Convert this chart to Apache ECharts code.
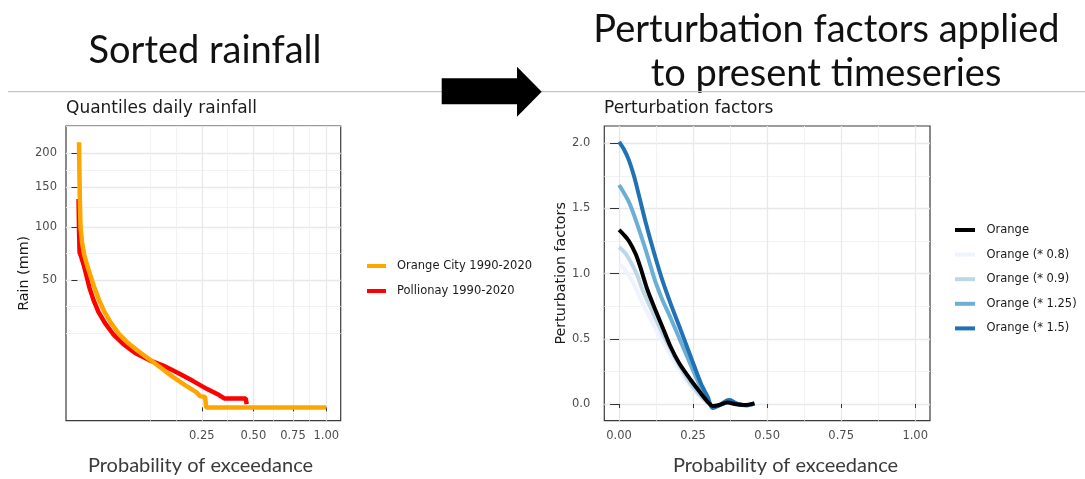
<!DOCTYPE html>
<html><head><meta charset="utf-8">
<script src="https://cdn.jsdelivr.net/npm/echarts@6.0.0/dist/echarts.min.js"></script>
<style>html,body{margin:0;padding:0;background:#fff}#c{width:1085px;height:479px}</style>
</head><body><div id="c"></div>
<script>
// ---------- Left panel: quantiles of daily rainfall ----------
const orangeCityP    = [0.0000414, 0.0000584, 0.0000932, 0.000156, 0.000342, 0.000705, 0.00149, 0.00278, 0.00473, 0.00755, 0.0119, 0.0183, 0.028, 0.0414, 0.0594, 0.083, 0.113, 0.148, 0.187, 0.228, 0.243, 0.263, 0.268, 1.0];
const orangeCityRain = [217, 174, 133, 100, 84.3, 72.5, 62.5, 53.2, 43.9, 35.5, 28.0, 21.9, 16.6, 12.8, 9.8, 7.2, 4.77, 2.83, 1.53, 0.72, 0.39, 0.33, 0, 0];
const pollionayP     = [0.0000196, 0.0000414, 0.0000714, 0.000272, 0.000705, 0.00134, 0.00237, 0.00419, 0.0072, 0.0123, 0.0205, 0.0337, 0.0537, 0.083, 0.1186, 0.1638, 0.2162, 0.2718, 0.3244, 0.3478, 0.4572, 0.4627];
const pollionayRain  = [134, 97, 74.4, 68.8, 61.6, 53.2, 43.9, 35.5, 28.0, 21.9, 16.6, 12.4, 9.1, 6.9, 5.39, 3.63, 2.13, 1.03, 0.47, 0.25, 0.25, 0.034];
const rainTicks      = [50, 100, 150, 200];
const probTicksLeft  = [0.25, 0.5, 0.75, 1.0];

// ---------- Right panel: perturbation factors ----------
const pfOrangeP = [0, 0.015, 0.033, 0.056, 0.073, 0.095, 0.118, 0.146, 0.174, 0.203, 0.242, 0.276, 0.304, 0.316, 0.338, 0.366, 0.395, 0.423, 0.457];
const pfOrangeV = [1.335, 1.30, 1.25, 1.15, 1.04, 0.88, 0.746, 0.593, 0.439, 0.312, 0.184, 0.082, 0.005, -0.015, -0.008, 0.012, -0.002, -0.008, 0.005];
const pf08P = [0, 0.02, 0.04, 0.06, 0.08, 0.1, 0.13, 0.16, 0.2, 0.24, 0.28, 0.305, 0.316, 0.338, 0.372, 0.40, 0.43, 0.457];
const pf08V = [1.075, 1.03, 0.96, 0.87, 0.77, 0.68, 0.55, 0.43, 0.27, 0.14, 0.04, 0.0, -0.02, -0.01, 0.02, 0.0, -0.01, 0.005];
const pf09P = [0, 0.02, 0.039, 0.061, 0.08, 0.1, 0.13, 0.16, 0.2, 0.24, 0.28, 0.305, 0.316, 0.338, 0.372, 0.40, 0.43, 0.457];
const pf09V = [1.205, 1.16, 1.09, 0.99, 0.87, 0.77, 0.62, 0.48, 0.31, 0.16, 0.05, 0.0, -0.02, -0.01, 0.02, 0.0, -0.01, 0.005];
const pf125P = [0, 0.033, 0.061, 0.09, 0.118, 0.132, 0.146, 0.174, 0.208, 0.242, 0.276, 0.30, 0.316, 0.338, 0.372, 0.40, 0.43, 0.457];
const pf125V = [1.68, 1.55, 1.38, 1.18, 0.97, 0.88, 0.80, 0.66, 0.48, 0.30, 0.125, 0.035, -0.03, -0.01, 0.03, 0.0, -0.01, 0.005];
const pf15P = [0, 0.017, 0.033, 0.05, 0.067, 0.09, 0.118, 0.146, 0.174, 0.208, 0.242, 0.276, 0.299, 0.316, 0.338, 0.372, 0.40, 0.43, 0.457];
const pf15V = [2.01, 1.95, 1.87, 1.75, 1.60, 1.39, 1.16, 0.95, 0.77, 0.567, 0.363, 0.159, 0.056, -0.03, -0.01, 0.03, 0.0, -0.01, 0.005];
const probTicksRight = [0, 0.25, 0.5, 0.75, 1.0];
const pfTicks        = [0, 0.5, 1.0, 1.5, 2.0];

// ---------- helpers ----------
const sq = Math.sqrt;
function pts(xs, ys, fx, fy) { return xs.map((x, i) => [fx(x), fy(ys[i])]); }
const id = v => v;
// ggplot-style minor breaks: midpoints of (transformed) majors, extended by one step each side
function minors(maj, lo, hi) {
  const bd = maj[1] - maj[0];
  const b = [maj[0] - bd].concat(maj, [maj[maj.length - 1] + bd]);
  const out = [];
  for (let i = 0; i < b.length - 1; i++) out.push(b[i], (b[i] + b[i + 1]) / 2);
  out.push(b[b.length - 1]);
  return out.filter(v => v > lo && v < hi && !maj.some(m => Math.abs(m - v) < 1e-9));
}

const TXT = '#4d4d4d', TICK = '#333333', GRID = '#e8e8e8', GRIDMIN = '#f0f0f0';
const FONT = 'DejaVu Sans';

const lxMaj = probTicksLeft.map(sq), lyMaj = rainTicks.map(sq);
const L = { xmin: -0.046, xmax: 1.058, ymin: -0.74, ymax: 15.63 };
const R = { xmin: -0.05, xmax: 1.05, ymin: -0.128, ymax: 2.132 };
const rxMaj = probTicksRight, ryMaj = pfTicks;

function majorAxis(grid, min, max, vals, fmt, tickLen, margin) {
  return {
    type: 'value', gridIndex: grid, min: min, max: max,
    axisLine: { show: false },
    axisTick: { show: true, customValues: vals, length: tickLen, lineStyle: { color: TICK, width: 1 } },
    axisLabel: { show: true, customValues: vals, formatter: fmt, color: TXT, fontFamily: FONT, fontSize: 11.5, margin: margin },
    splitLine: { show: true, lineStyle: { color: GRID, width: 1.3 } }
  };
}
function minorAxis(grid, min, max, vals, isY) {
  return {
    type: 'value', gridIndex: grid, min: min, max: max, position: isY ? 'left' : 'bottom',
    axisLine: { show: false },
    axisTick: { show: false, customValues: vals },
    axisLabel: { show: false },
    splitLine: { show: true, lineStyle: { color: GRIDMIN, width: 0.9 } }
  };
}

const xAxes = [
  majorAxis(0, L.xmin, L.xmax, lxMaj, v => (v * v).toFixed(2), 4, 9),
  minorAxis(0, L.xmin, L.xmax, minors(lxMaj, L.xmin, L.xmax), false),
  majorAxis(1, R.xmin, R.xmax, rxMaj, v => v.toFixed(2), 4, 9),
  minorAxis(1, R.xmin, R.xmax, minors(rxMaj, R.xmin, R.xmax), false)
];
const yAxes = [
  majorAxis(0, L.ymin, L.ymax, lyMaj, v => String(Math.round(v * v)), 6, 9),
  minorAxis(0, L.ymin, L.ymax, minors(lyMaj, L.ymin, L.ymax), true),
  majorAxis(1, R.ymin, R.ymax, ryMaj, v => v.toFixed(1), 9, 14),
  minorAxis(1, R.ymin, R.ymax, minors(ryMaj, R.ymin, R.ymax), true)
];
yAxes[0].name = 'Rain (mm)';
yAxes[2].name = 'Perturbation factors';
[0, 2].forEach((k, j) => {
  Object.assign(yAxes[k], {
    nameLocation: 'middle', nameRotate: 90, nameGap: j === 0 ? 32 : 31,
    nameTextStyle: { fontFamily: FONT, fontSize: 14.3, color: '#1a1a1a' }
  });
});

function lineSeries(name, xi, yi, data, color, w, smooth) {
  return { name: name, type: 'line', xAxisIndex: xi, yAxisIndex: yi, data: data, showSymbol: false, symbol: 'none',
    smooth: smooth || false,
    lineStyle: { color: color, width: w }, itemStyle: { color: color }, animation: false, silent: true };
}

const C = { orange: '#FFA500', red: '#FF0000', black: '#000000', b08: '#EFF3FF', b09: '#BDD7E7', b125: '#6BAED6', b15: '#2171B5' };

const series = [
  lineSeries('Pollionay 1990-2020', 0, 0, pts(pollionayP, pollionayRain, sq, sq), C.red, 4.5),
  lineSeries('Orange City 1990-2020', 0, 0, pts(orangeCityP, orangeCityRain, sq, sq), C.orange, 4.5),
  lineSeries('Orange (* 0.8)', 2, 2, pts(pf08P, pf08V, id, id), C.b08, 4, 0.3),
  lineSeries('Orange (* 0.9)', 2, 2, pts(pf09P, pf09V, id, id), C.b09, 4, 0.3),
  lineSeries('Orange (* 1.25)', 2, 2, pts(pf125P, pf125V, id, id), C.b125, 4, 0.3),
  lineSeries('Orange (* 1.5)', 2, 2, pts(pf15P, pf15V, id, id), C.b15, 4, 0.3),
  lineSeries('Orange', 2, 2, pts(pfOrangeP, pfOrangeV, id, id), C.black, 4, 0.3)
];

const option = {
  backgroundColor: '#ffffff',
  animation: false,
  title: [
    { text: 'Quantiles daily rainfall', left: 66, top: 100, padding: 0,
      textStyle: { fontFamily: FONT, fontSize: 17, fontWeight: 'normal', color: '#1a1a1a' } },
    { text: 'Perturbation factors', left: 604, top: 100, padding: 0,
      textStyle: { fontFamily: FONT, fontSize: 17, fontWeight: 'normal', color: '#1a1a1a' } }
  ],
  legend: [
    { data: ['Orange City 1990-2020', 'Pollionay 1990-2020'], orient: 'vertical', left: 367, top: 259, padding: 0,
      icon: 'rect', itemWidth: 19, itemHeight: 4, itemGap: 11, selectedMode: false,
      textStyle: { fontFamily: FONT, fontSize: 11.5, color: '#1a1a1a', lineHeight: 14, padding: [0, 0, 0, 6] } },
    { data: ['Orange', 'Orange (* 0.8)', 'Orange (* 0.9)', 'Orange (* 1.25)', 'Orange (* 1.5)'], orient: 'vertical', left: 955, top: 223, padding: 0,
      icon: 'rect', itemWidth: 20, itemHeight: 4, itemGap: 10.6, selectedMode: false,
      textStyle: { fontFamily: FONT, fontSize: 11.5, color: '#1a1a1a', lineHeight: 14, padding: [0, 0, 0, 6.5] } }
  ],
  grid: [
    { left: 66, top: 126, width: 274.7, height: 294.7, show: true, borderColor: '#3a3a3a', borderWidth: 1.2, backgroundColor: 'transparent' },
    { left: 604.3, top: 126, width: 325.7, height: 294.7, show: true, borderColor: '#3a3a3a', borderWidth: 1.2, backgroundColor: 'transparent' }
  ],
  xAxis: xAxes,
  yAxis: yAxes,
  series: series,
  graphic: [
    { type: 'line', z: 1, shape: { x1: 8, y1: 91.7, x2: 1085, y2: 91.7 }, style: { stroke: '#c4c4c4', lineWidth: 1.3 } },
    { type: 'polygon', z: 2, shape: { points: [[441.7, 78.3], [517, 78.3], [517, 66.7], [541.7, 91.7], [517, 116.7], [517, 104.3], [441.7, 104.3]] },
      style: { fill: '#000000' } },
    { type: 'text', x: 205, y: 51, style: { text: 'Sorted rainfall', font: '38px Lato', fill: '#111111', textAlign: 'center', textVerticalAlign: 'middle' } },
    { type: 'text', x: 826.5, y: 30, style: { text: 'Perturbation factors applied', font: '38px Lato', fill: '#111111', textAlign: 'center', textVerticalAlign: 'middle' } },
    { type: 'text', x: 826, y: 74, style: { text: 'to present timeseries', font: '38px Lato', fill: '#111111', textAlign: 'center', textVerticalAlign: 'middle' } },
    { type: 'text', x: 200.5, y: 466, style: { text: 'Probability of exceedance', font: '20px Lato', fill: '#3a3a3a', textAlign: 'center', textVerticalAlign: 'middle' } },
    { type: 'text', x: 785.5, y: 466, style: { text: 'Probability of exceedance', font: '20px Lato', fill: '#3a3a3a', textAlign: 'center', textVerticalAlign: 'middle' } }
  ]
};
const chart = echarts.init(document.getElementById('c'), null, { renderer: 'canvas' });
chart.setOption(option);
</script></body></html>
